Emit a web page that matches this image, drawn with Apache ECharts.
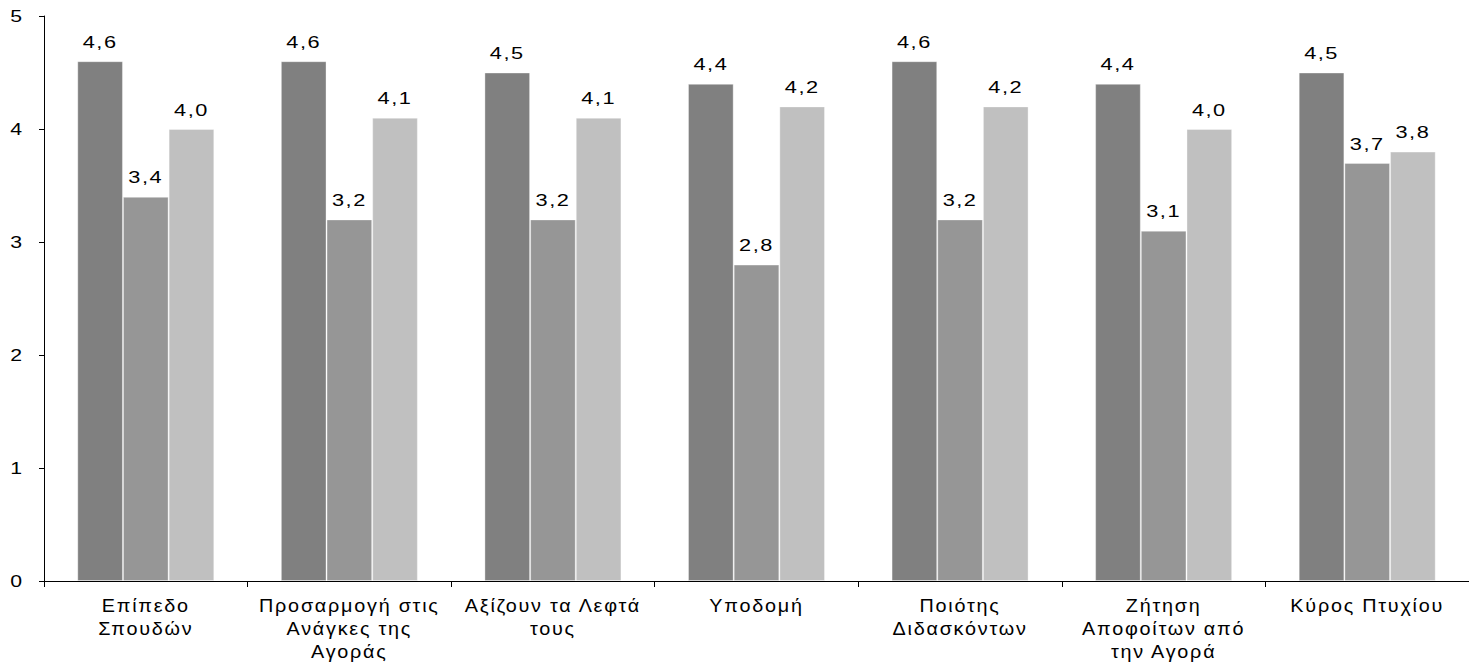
<!DOCTYPE html>
<html>
<head>
<meta charset="utf-8">
<script src="https://cdn.jsdelivr.net/npm/echarts@6/dist/echarts.min.js"></script>
<style>
html,body{margin:0;padding:0;background:#fff;}
#chart{width:1469px;height:667px;}
</style>
</head>
<body>
<div id="chart"></div>
<script>
const categories = [
  "Επίπεδο\nΣπουδών",
  "Προσαρμογή στις\nΑνάγκες της\nΑγοράς",
  "Αξίζουν τα Λεφτά\nτους",
  "Υποδομή",
  "Ποιότης\nΔιδασκόντων",
  "Ζήτηση\nΑποφοίτων από\nτην Αγορά",
  "Κύρος Πτυχίου"
];
const series1 = [4.6, 4.6, 4.5, 4.4, 4.6, 4.4, 4.5];
const series2 = [3.4, 3.2, 3.2, 2.8, 3.2, 3.1, 3.7];
const series3 = [4.0, 4.1, 4.1, 4.2, 4.2, 4.0, 3.8];
const yTicks = [0, 1, 2, 3, 4, 5];

const colors = ['#808080', '#969696', '#c0c0c0'];
const fontFam = '"Liberation Sans", Arial, sans-serif';

function mk(name, data, color) {
  return {
    name: name,
    type: 'bar',
    data: data,
    barGap: '0%',
    barCategoryGap: '32.7%',
    itemStyle: { color: color, borderColor: 'rgba(255,255,255,0.35)', borderWidth: 1 },
    label: {
      show: true,
      position: 'top',
      distance: 11,
      color: '#000',
      fontFamily: fontFam,
      fontSize: 17,
      formatter: p => p.value.toFixed(1).replace('.', ',')
    }
  };
}

const chart = echarts.init(document.getElementById('chart'), null, { renderer: 'svg' });
chart.setOption({
  animation: false,
  backgroundColor: '#fff',
  grid: { left: 44, right: -10, top: 16, bottom: 86, containLabel: false },
  xAxis: {
    type: 'category',
    data: categories,
    axisLine: { lineStyle: { color: '#000', width: 1 } },
    axisTick: { show: true, length: 6, lineStyle: { color: '#000' } },
    axisLabel: {
      color: '#000',
      fontFamily: fontFam,
      fontSize: 18,
      lineHeight: 23,
      margin: 13,
      interval: 0
    }
  },
  yAxis: {
    type: 'value',
    min: 0,
    max: 5,
    interval: 1,
    axisLine: { show: true, lineStyle: { color: '#000', width: 1 } },
    axisTick: { show: true, length: 5, lineStyle: { color: '#000' } },
    splitLine: { show: false },
    axisLabel: {
      color: '#000',
      fontFamily: fontFam,
      fontSize: 17,
      margin: 22,
      formatter: v => yTicks.includes(v) ? String(v) : ''
    }
  },
  series: [
    mk('Σειρά 1', series1, colors[0]),
    mk('Σειρά 2', series2, colors[1]),
    mk('Σειρά 3', series3, colors[2])
  ]
});

// Mimic the reference's horizontally wide, spaced-out text rendering
function stretch(t, sx) {
  const x = parseFloat(t.getAttribute('x') || '0');
  const tr = t.getAttribute('transform') || '';
  t.setAttribute('transform', tr + ' translate(' + x + ' 0) scale(' + sx + ' 1) translate(' + (-x) + ' 0)');
}
function applyTextStyle() {
  document.querySelectorAll('#chart svg text').forEach(t => {
    if (t.getAttribute('data-styled')) return;
    t.setAttribute('data-styled', '1');
    const s = t.textContent || '';
    if (/^\d,\d$/.test(s)) {
      t.style.letterSpacing = '1.2px';
      stretch(t, 1.28);
    } else if (/^\d$/.test(s)) {
      stretch(t, 1.25);
    } else {
      t.style.letterSpacing = '1.6px';
      stretch(t, 1.1);
    }
  });
}
applyTextStyle();
</script>
</body>
</html>
